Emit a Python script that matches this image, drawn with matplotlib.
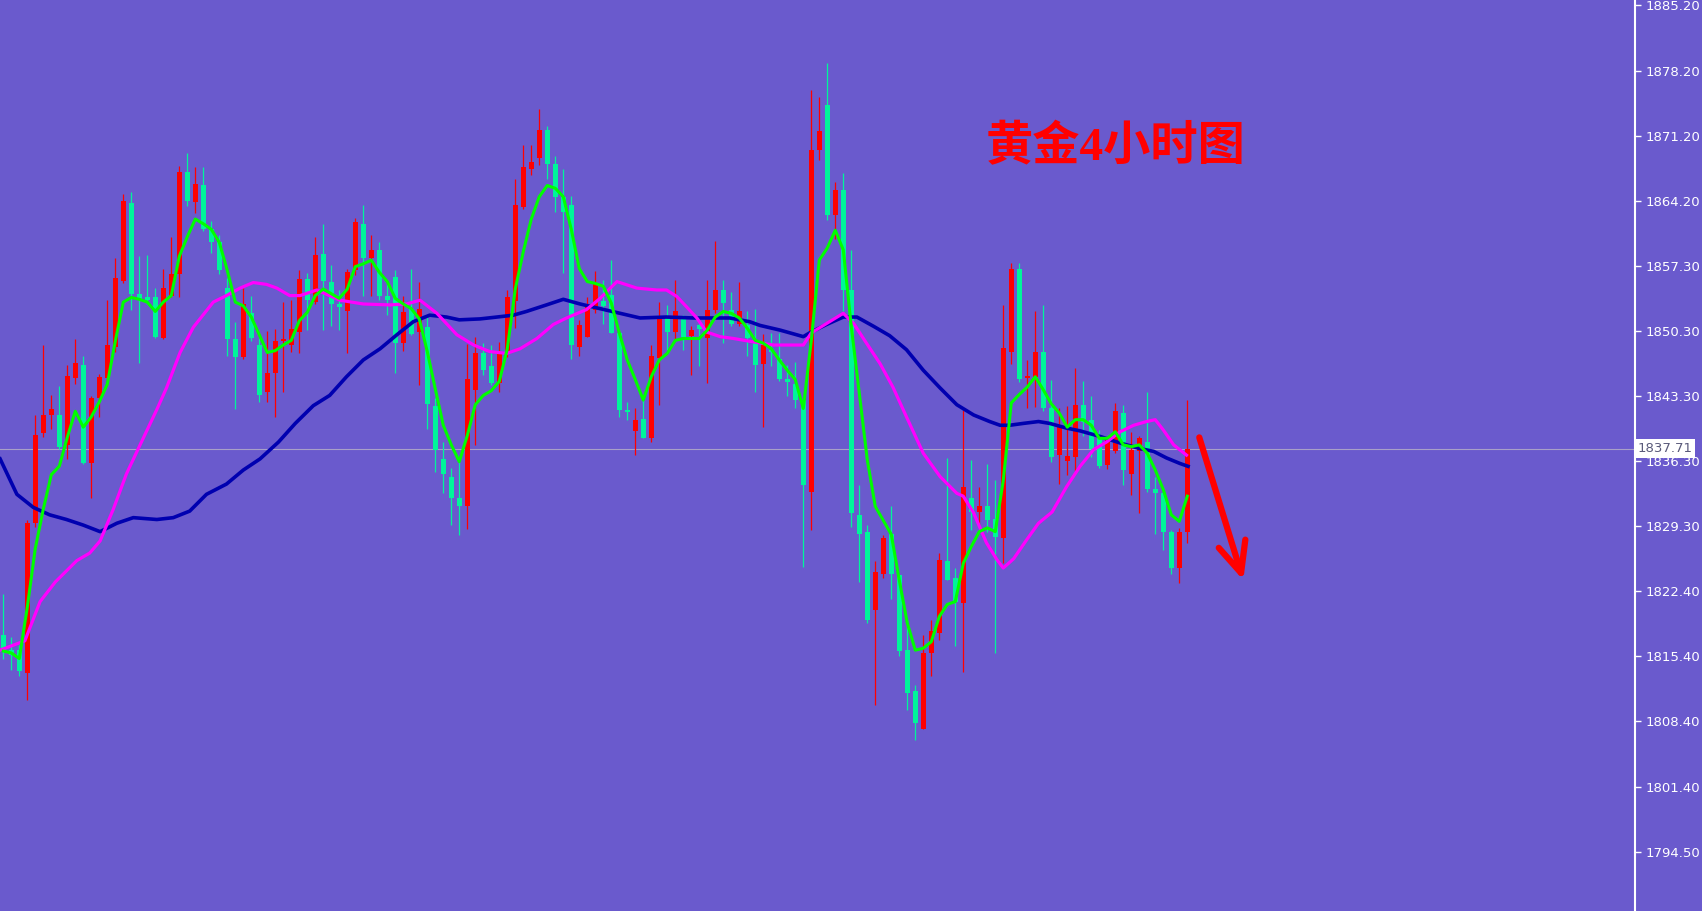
import matplotlib
matplotlib.use('Agg')
import matplotlib.pyplot as plt
import numpy as np

# candle data (4 hour bars)
opens = [1817.7, 1816.1, 1816.1, 1813.7, 1829.7, 1839.4, 1841.3, 1841.3, 1838.1, 1845.3,
         1846.7, 1836.2, 1843.1, 1845.3, 1848.6, 1855.7, 1864.0, 1854.3, 1853.9, 1853.9,
         1849.5, 1854.1, 1856.4, 1867.3, 1864.1, 1865.9, 1861.2, 1859.8, 1854.9, 1849.4,
         1847.5, 1852.2, 1848.8, 1843.8, 1845.8, 1849.2, 1848.8, 1850.2, 1855.9, 1853.4,
         1858.6, 1855.6, 1853.2, 1852.4, 1856.8, 1861.8, 1858.1, 1859.0, 1854.1, 1856.1,
         1849.0, 1852.7, 1850.2, 1850.7, 1842.3, 1836.6, 1834.7, 1832.4, 1831.5, 1844.0,
         1847.9, 1846.6, 1844.7, 1848.1, 1853.5, 1863.6, 1867.7, 1868.8, 1871.8, 1868.2,
         1864.7, 1863.8, 1848.6, 1849.7, 1852.6, 1853.5, 1854.2, 1850.1, 1841.8, 1839.6,
         1840.9, 1838.8, 1847.4, 1851.8, 1850.2, 1851.8, 1849.8, 1851.0, 1849.5, 1852.6,
         1854.7, 1852.6, 1851.1, 1851.0, 1849.0, 1846.8, 1848.3, 1847.3, 1845.2, 1844.6,
         1842.9, 1833.1, 1869.7, 1874.5, 1862.7, 1865.4, 1854.7, 1830.6, 1828.8, 1820.4,
         1824.3, 1828.6, 1824.2, 1816.1, 1811.7, 1807.7, 1815.8, 1817.9, 1825.6, 1823.8,
         1821.1, 1832.4, 1830.9, 1831.5, 1830.2, 1828.1, 1848.1, 1857.0, 1845.3, 1845.4,
         1848.1, 1842.0, 1837.0, 1836.4, 1836.8, 1842.4, 1840.8, 1838.8, 1835.9, 1837.4,
         1841.5, 1835.0, 1837.4, 1838.4, 1833.4, 1832.9, 1828.8, 1824.9, 1828.8]
highs = [1822.1, 1817.5, 1816.7, 1830.1, 1841.3, 1848.8, 1843.4, 1844.4, 1846.7, 1849.4,
         1847.6, 1843.3, 1845.7, 1853.6, 1858.1, 1865.0, 1865.2, 1858.3, 1858.5, 1854.9,
         1857.0, 1860.4, 1868.0, 1869.4, 1867.9, 1867.9, 1862.1, 1860.6, 1856.0, 1851.3,
         1854.9, 1854.1, 1849.5, 1850.3, 1850.5, 1853.4, 1853.6, 1856.8, 1856.5, 1860.4,
         1861.8, 1857.4, 1854.7, 1857.0, 1862.4, 1863.8, 1860.6, 1859.8, 1855.6, 1856.8,
         1854.1, 1857.0, 1855.6, 1852.0, 1843.1, 1838.4, 1835.6, 1836.3, 1848.9, 1849.7,
         1849.0, 1848.8, 1849.1, 1854.7, 1866.6, 1870.2, 1870.2, 1874.1, 1872.3, 1869.1,
         1867.7, 1864.8, 1851.5, 1854.0, 1856.7, 1855.8, 1857.9, 1850.1, 1842.7, 1842.0,
         1843.1, 1848.8, 1853.4, 1853.1, 1855.8, 1852.0, 1850.8, 1851.5, 1855.8, 1859.9,
         1855.8, 1854.5, 1855.6, 1852.5, 1852.7, 1850.0, 1850.1, 1850.1, 1846.7, 1847.0,
         1843.0, 1876.1, 1875.4, 1879.0, 1866.3, 1867.2, 1859.0, 1833.8, 1829.5, 1825.6,
         1828.4, 1831.6, 1824.2, 1819.3, 1812.4, 1817.7, 1819.3, 1826.5, 1836.7, 1824.9,
         1841.8, 1836.5, 1833.6, 1836.1, 1834.3, 1853.1, 1857.6, 1857.6, 1847.2, 1852.4,
         1853.1, 1845.0, 1842.1, 1842.3, 1846.3, 1844.9, 1843.3, 1839.7, 1839.0, 1842.6,
         1842.4, 1839.5, 1839.0, 1843.8, 1834.7, 1833.6, 1829.0, 1829.2, 1842.9]
lows = [1815.2, 1814.0, 1813.3, 1810.8, 1829.3, 1838.9, 1839.8, 1837.7, 1836.6, 1844.6,
        1836.0, 1832.4, 1841.1, 1844.9, 1848.0, 1855.5, 1852.6, 1846.9, 1853.2, 1849.5,
        1849.4, 1853.9, 1853.9, 1863.7, 1862.9, 1861.0, 1858.7, 1856.4, 1847.6, 1841.9,
        1847.3, 1849.2, 1842.7, 1842.7, 1841.1, 1843.8, 1848.0, 1847.9, 1850.4, 1853.2,
        1850.4, 1850.8, 1850.4, 1847.9, 1856.3, 1854.1, 1854.1, 1853.6, 1852.0, 1845.8,
        1848.2, 1849.9, 1844.5, 1839.8, 1835.2, 1832.9, 1829.5, 1828.4, 1829.1, 1838.1,
        1845.6, 1844.5, 1843.8, 1847.5, 1850.6, 1863.4, 1867.0, 1868.1, 1866.6, 1863.1,
        1856.5, 1847.3, 1847.6, 1849.7, 1852.2, 1851.1, 1850.1, 1841.1, 1840.8, 1837.0,
        1838.8, 1838.4, 1842.4, 1848.3, 1849.3, 1848.3, 1845.6, 1846.5, 1844.7, 1852.2,
        1849.0, 1850.8, 1850.8, 1847.6, 1843.8, 1840.0, 1846.5, 1844.9, 1843.3, 1842.0,
        1825.0, 1829.0, 1868.6, 1862.2, 1860.2, 1852.4, 1829.3, 1823.4, 1819.0, 1810.2,
        1823.8, 1821.6, 1815.5, 1809.7, 1806.5, 1807.6, 1813.3, 1817.2, 1823.6, 1816.5,
        1813.8, 1829.0, 1829.5, 1828.8, 1815.8, 1825.4, 1846.8, 1844.8, 1842.0, 1842.2,
        1841.7, 1836.3, 1833.9, 1834.9, 1835.0, 1839.0, 1836.8, 1835.6, 1835.5, 1837.2,
        1833.8, 1832.7, 1830.8, 1833.1, 1828.6, 1826.8, 1824.3, 1823.3, 1827.6]
closes = [1816.3, 1815.6, 1813.9, 1829.7, 1839.2, 1841.3, 1841.9, 1837.9, 1845.5, 1846.9,
          1836.2, 1843.1, 1845.4, 1848.8, 1856.0, 1864.2, 1854.3, 1853.7, 1853.6, 1849.7,
          1854.9, 1856.4, 1867.3, 1864.2, 1866.1, 1861.2, 1859.8, 1856.8, 1849.4, 1847.5,
          1853.2, 1849.5, 1843.4, 1845.8, 1849.2, 1849.4, 1850.5, 1855.9, 1853.6, 1858.4,
          1855.7, 1853.2, 1852.9, 1856.6, 1862.0, 1858.1, 1859.0, 1854.1, 1853.6, 1849.0,
          1852.3, 1850.0, 1852.7, 1842.5, 1837.5, 1835.0, 1832.4, 1831.5, 1845.2, 1847.9,
          1846.1, 1844.7, 1848.1, 1854.0, 1863.8, 1867.9, 1868.4, 1871.8, 1868.2, 1864.7,
          1863.1, 1848.8, 1851.0, 1852.9, 1855.4, 1853.0, 1850.1, 1841.8, 1841.6, 1840.8,
          1838.8, 1847.6, 1851.8, 1850.2, 1852.4, 1849.7, 1850.4, 1850.5, 1852.6, 1854.7,
          1853.3, 1851.1, 1852.4, 1849.5, 1846.7, 1848.8, 1848.0, 1845.2, 1844.8, 1842.9,
          1833.8, 1869.7, 1871.7, 1862.7, 1865.4, 1854.7, 1830.8, 1828.6, 1819.3, 1824.5,
          1828.1, 1824.3, 1816.0, 1811.5, 1808.3, 1815.8, 1818.1, 1825.8, 1823.6, 1821.3,
          1833.6, 1830.9, 1831.5, 1830.0, 1828.2, 1848.5, 1857.0, 1845.2, 1845.5, 1848.1,
          1842.1, 1836.8, 1840.1, 1836.9, 1842.4, 1840.6, 1837.7, 1835.8, 1838.6, 1841.7,
          1835.4, 1837.5, 1838.8, 1833.4, 1832.9, 1828.8, 1824.9, 1828.8, 1837.71]

# short moving average (green), one value per bar
ma_fast = [1816.0, 1815.8, 1815.2, 1820.7, 1827.0, 1831.2, 1834.9, 1835.8, 1838.9, 1841.7,
           1840.0, 1841.1, 1842.7, 1844.6, 1849.2, 1853.4, 1853.9, 1853.7, 1853.4, 1852.4,
           1853.4, 1854.1, 1858.3, 1860.4, 1862.3, 1861.8, 1861.2, 1859.8, 1856.8, 1853.4,
           1853.0, 1851.8, 1849.9, 1848.0, 1848.2, 1848.8, 1849.3, 1851.4, 1852.3, 1854.1,
           1854.8, 1854.3, 1853.8, 1854.8, 1857.2, 1857.5, 1857.9, 1856.6, 1855.6, 1853.8,
           1853.2, 1852.7, 1851.6, 1848.1, 1844.1, 1840.2, 1838.1, 1836.3, 1839.1, 1842.4,
           1843.4, 1843.9, 1844.9, 1848.4, 1854.8, 1858.8, 1862.3, 1864.7, 1865.9, 1865.6,
           1864.7, 1861.2, 1857.0, 1855.6, 1855.4, 1855.1, 1853.3, 1850.1, 1847.2, 1845.1,
           1842.9, 1845.4, 1847.2, 1847.9, 1849.3, 1849.5, 1849.5, 1849.5, 1850.4, 1851.8,
           1852.4, 1852.2, 1851.7, 1850.6, 1849.3, 1849.0, 1848.4, 1847.2, 1846.1, 1845.1,
           1842.0, 1849.3, 1857.9, 1859.2, 1861.1, 1859.0, 1850.8, 1843.6, 1836.5, 1831.5,
           1830.0, 1828.5, 1823.6, 1819.0, 1816.1, 1816.3, 1817.0, 1819.7, 1821.0, 1821.3,
           1825.4, 1827.2, 1828.8, 1829.2, 1828.8, 1834.3, 1842.6, 1843.5, 1844.3, 1845.4,
           1844.0, 1842.5, 1841.5, 1840.0, 1840.8, 1840.8, 1840.2, 1838.8, 1838.8, 1839.5,
           1838.1, 1837.9, 1838.1, 1837.2, 1835.4, 1833.3, 1830.6, 1829.9, 1832.6]

# middle moving average (magenta), read at these bar positions
ma_mid_x = [-0.4, 2.7, 4.6, 6.5, 9.2, 10.8, 12.1, 13.75, 15.4, 17.1, 19.2, 20.4, 22.1, 23.75,
            26.25, 27.9, 29.6, 31.25, 32.9, 34.2, 35.8, 37.1, 39.2, 42.1, 45, 48.3, 50.4,
            52.1, 54.2, 56.7, 58.8, 60.8, 62.9, 64.6, 66.7, 68.75, 70.4, 72.9, 74.6, 76.7,
            79.2, 81.7, 82.9, 84.2, 85.4, 86.7, 87.9, 89.6, 91.3, 93.3, 96.3, 98.3, 100,
            101, 102.9, 105, 106.3, 107.9, 109.6, 111.2, 112.9, 115, 117.1, 119.2, 120,
            121.3, 122.9, 124.2, 125, 126.3, 127.9, 129.4, 131.1, 132.9, 134.6, 136.3,
            137.9, 139.6, 141.3, 142.9, 144, 145, 146.3, 147.9]
ma_mid = [1816.1, 1817.1, 1821.3, 1823.4, 1825.7, 1826.5, 1827.8, 1831.2, 1835.0, 1838.1,
          1841.9, 1844.2, 1848.0, 1850.7, 1853.4, 1854.1, 1854.9, 1855.5, 1855.3, 1854.9,
          1854.1, 1854.1, 1854.7, 1853.6, 1853.2, 1853.1, 1853.2, 1853.6, 1852.2, 1849.9,
          1848.8, 1848.1, 1847.9, 1848.4, 1849.5, 1851.0, 1851.7, 1852.6, 1853.8, 1855.6,
          1854.9, 1854.7, 1854.7, 1854.0, 1852.9, 1851.7, 1850.2, 1849.7, 1849.5, 1849.2,
          1848.8, 1848.8, 1848.8, 1850.1, 1851.1, 1852.2, 1851.1, 1849.0, 1846.8, 1844.3,
          1841.1, 1837.2, 1834.7, 1832.9, 1832.6, 1830.8, 1827.6, 1825.8, 1824.9, 1825.9,
          1827.9, 1829.7, 1830.9, 1833.6, 1835.8, 1837.6, 1838.4, 1839.5, 1840.2, 1840.6,
          1840.8, 1839.7, 1838.1, 1837.0]

# long moving average (dark blue), read at these bar positions
ma_slow_x = [-0.4, 1.7, 3.75, 5.8, 7.9, 10, 12.1, 14.2, 16.25, 19.2, 21.25, 23.3, 25.4, 27.9,
             30, 32.1, 34.4, 36.5, 38.75, 40.8, 42.9, 45, 47.1, 49.2, 51.25, 53.3, 55.4, 57,
             59.6, 61.7, 63.75, 65.4, 67.9, 70, 72.1, 74.6, 77.1, 79.6, 82.9, 86.3, 90.8,
             93.3, 94.6, 97.1, 100, 101, 102.9, 105, 106.7, 108.8, 110.8, 112.9, 115, 117.1,
             119.2, 121.3, 123.3, 124.6, 125.8, 127.5, 129.4, 130.8, 132.9, 134.6, 137.1,
             139.6, 142.1, 143.8, 145.4, 147.1, 148.1]
ma_slow = [1836.6, 1832.8, 1831.4, 1830.6, 1830.1, 1829.5, 1828.8, 1829.7, 1830.3, 1830.1,
           1830.3, 1831.0, 1832.8, 1833.9, 1835.4, 1836.6, 1838.4, 1840.4, 1842.3, 1843.4,
           1845.4, 1847.2, 1848.4, 1849.9, 1851.3, 1852.0, 1851.8, 1851.5, 1851.6, 1851.8,
           1852.0, 1852.4, 1853.1, 1853.7, 1853.2, 1852.7, 1852.2, 1851.7, 1851.8, 1851.7,
           1851.7, 1851.3, 1850.9, 1850.4, 1849.7, 1850.2, 1851.0, 1851.8, 1851.8, 1850.8,
           1849.8, 1848.3, 1846.1, 1844.2, 1842.4, 1841.3, 1840.6, 1840.2, 1840.2, 1840.4,
           1840.6, 1840.4, 1839.9, 1839.6, 1839.0, 1838.3, 1837.7, 1837.4, 1836.7, 1836.1,
           1835.8]

# price scale labels
tick_labels = ['1885.20', '1878.20', '1871.20', '1864.20', '1857.30', '1850.30', '1843.30',
               '1836.30', '1829.30', '1822.40', '1815.40', '1808.40', '1801.40', '1794.50']
last_price = 1837.71
title = '黄金4小时图'

bg = '#6A5ACD'
up_col = '#FF0000'
down_col = '#00F59A'

fig = plt.figure(figsize=(17.02, 9.11), dpi=100)
fig.patch.set_facecolor(bg)
ax = fig.add_axes([0, 0, 1634.8 / 1702, 1])
ax.set_facecolor(bg)

x = np.arange(len(opens))
o = np.array(opens)
c = np.array(closes)
cols = [up_col if cc >= oo else down_col for oo, cc in zip(o, c)]

# current price line
ax.axhline(last_price, color='#A8A0C8', lw=0.8, zorder=0.5)

# candles
ax.vlines(x, lows, highs, colors=cols, lw=0.9, zorder=2)
body_h = np.maximum(np.abs(c - o), 0.15)
ax.bar(x, body_h, bottom=np.minimum(o, c), width=0.62, color=cols, lw=0, zorder=3)

# moving averages
ax.plot(ma_slow_x, ma_slow, color='#0000B0', lw=2.6, zorder=4)
ax.plot(ma_mid_x, ma_mid, color='#FF00FF', lw=2.3, zorder=5)
ax.plot(x, ma_fast, color='#00FF00', lw=2.2, zorder=6)

ax.set_xlim(-0.41, 203.94)
ax.set_ylim(1788.14, 1885.78)

# right price axis
ticks = [1885.2 - k * 90.7 / 13 for k in range(len(tick_labels))]
ax.yaxis.tick_right()
ax.set_yticks(ticks)
ax.set_yticklabels(tick_labels)
ax.tick_params(axis='y', colors='white', length=4, width=1, labelsize=9.5, pad=4)
ax.set_xticks([])
for s in ['top', 'left', 'bottom']:
    ax.spines[s].set_visible(False)
ax.spines['right'].set_color('white')
ax.spines['right'].set_linewidth(1.5)

# last price tag
ax.text(1.0015, last_price, '%.2f' % last_price, transform=ax.get_yaxis_transform(),
        ha='left', va='center', fontsize=9.5, color='#5A5A7A', zorder=10, clip_on=False,
        bbox=dict(boxstyle='square,pad=0.2', fc='white', ec='none'))

# title and arrow
ax.text(139.0, 1870.0, title, color='red', fontsize=34, fontweight='heavy',
        family=['Liberation Serif', 'Noto Sans CJK SC'], ha='center', va='center', zorder=8)
ax.annotate('', xy=(155.0, 1823.6), xytext=(149.5, 1838.9),
            arrowprops=dict(arrowstyle='->,head_length=2.2,head_width=1.0',
                            color='red', lw=4.5, shrinkA=0, shrinkB=0), zorder=8)

fig.savefig('out.png', dpi=100, facecolor=bg)
